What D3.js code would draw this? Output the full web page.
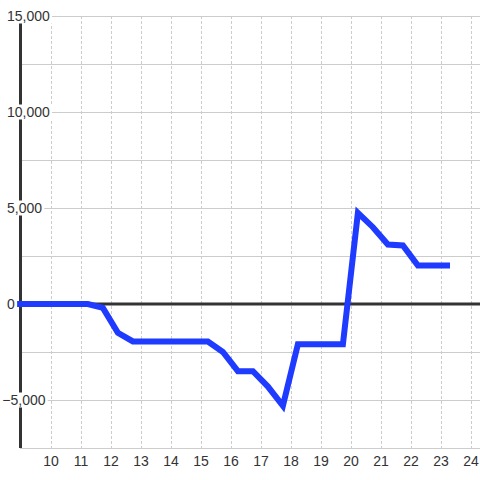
<!DOCTYPE html>
<html><head><meta charset="utf-8">
<script src="https://cdn.jsdelivr.net/npm/d3@7"></script>
<style>html,body{margin:0;padding:0;background:#fff;}svg{display:block;}</style>
</head><body>
<svg id="c" width="480" height="480"></svg>
<script>
const hours  = [8.87, 11.23, 11.73, 12.23, 12.73, 15.23, 15.73, 16.23, 16.73, 17.23, 17.73, 18.23, 19.73, 20.23, 20.73, 21.23, 21.73, 22.23, 23.3];
const values = [0, 0, -200, -1500, -1950, -1950, -2500, -3500, -3500, -4300, -5300, -2100, -2100, 4750, 4000, 3100, 3050, 2000, 2000];
const xTicks = [10,11,12,13,14,15,16,17,18,19,20,21,22,23,24];
const yGrid = [-7500,-5000,-2500,0,2500,5000,7500,10000,12500,15000];
const yLabels = [-5000,0,5000,10000,15000];

const svg = d3.select("#c");
const x = d3.scaleLinear().domain([9, 24.3]).range([21, 480]);
const y = d3.scaleLinear().domain([-7500, 15000]).range([448, 16]);
const fmt = d3.format(",");

// horizontal grid
svg.append("g").selectAll("line").data(yGrid.filter(d=>d!==0)).join("line")
  .attr("x1", 20).attr("x2", 480)
  .attr("y1", d=>Math.round(y(d))+0.5).attr("y2", d=>Math.round(y(d))+0.5)
  .attr("stroke", "#cccccc").attr("stroke-width", 1);

// vertical dashed grid
svg.append("g").selectAll("line").data(xTicks).join("line")
  .attr("x1", d=>Math.round(x(d))+0.5).attr("x2", d=>Math.round(x(d))+0.5)
  .attr("y1", 16).attr("y2", 448)
  .attr("stroke", "#cccccc").attr("stroke-width", 1).attr("stroke-dasharray", "3,2");

// zero line
svg.append("line").attr("x1", 20).attr("x2", 480)
  .attr("y1", y(0)).attr("y2", y(0))
  .attr("stroke", "#333").attr("stroke-width", 3);

// y axis line
svg.append("line").attr("x1", 20.5).attr("x2", 20.5)
  .attr("y1", 16).attr("y2", 448)
  .attr("stroke", "#333").attr("stroke-width", 3);

// y labels with white background
const yl = svg.append("g").selectAll("g").data(yLabels).join("g");
yl.each(function(d){
  const g = d3.select(this);
  const t = g.append("text")
    .attr("x", d<0 ? 2.3 : 7).attr("y", y(d)).attr("dy", "0.35em")
    .attr("font-family", "Liberation Sans, Arial, sans-serif").attr("font-size", 14)
    .attr("fill", "#333").text(fmt(d));
  const bb = t.node().getBBox();
  g.insert("rect", "text").attr("x", bb.x - 1).attr("y", y(d) - 7.5)
    .attr("width", bb.width + 3).attr("height", 15).attr("fill", "#fff");
});

// data line
const pts = hours.map((h,i)=>[h, values[i]]);
svg.append("path").datum(pts)
  .attr("d", d3.line().x(d=>x(d[0])).y(d=>y(d[1])))
  .attr("fill", "none").attr("stroke", "#1e3bff").attr("stroke-width", 6)
  .attr("stroke-linejoin", "miter");

// x labels
svg.append("g").selectAll("text").data(xTicks).join("text")
  .attr("x", d=>x(d)).attr("y", 466).attr("text-anchor", "middle")
  .attr("font-family", "Liberation Sans, Arial, sans-serif").attr("font-size", 14)
  .attr("fill", "#333").text(d=>d);
</script>
</body></html>
